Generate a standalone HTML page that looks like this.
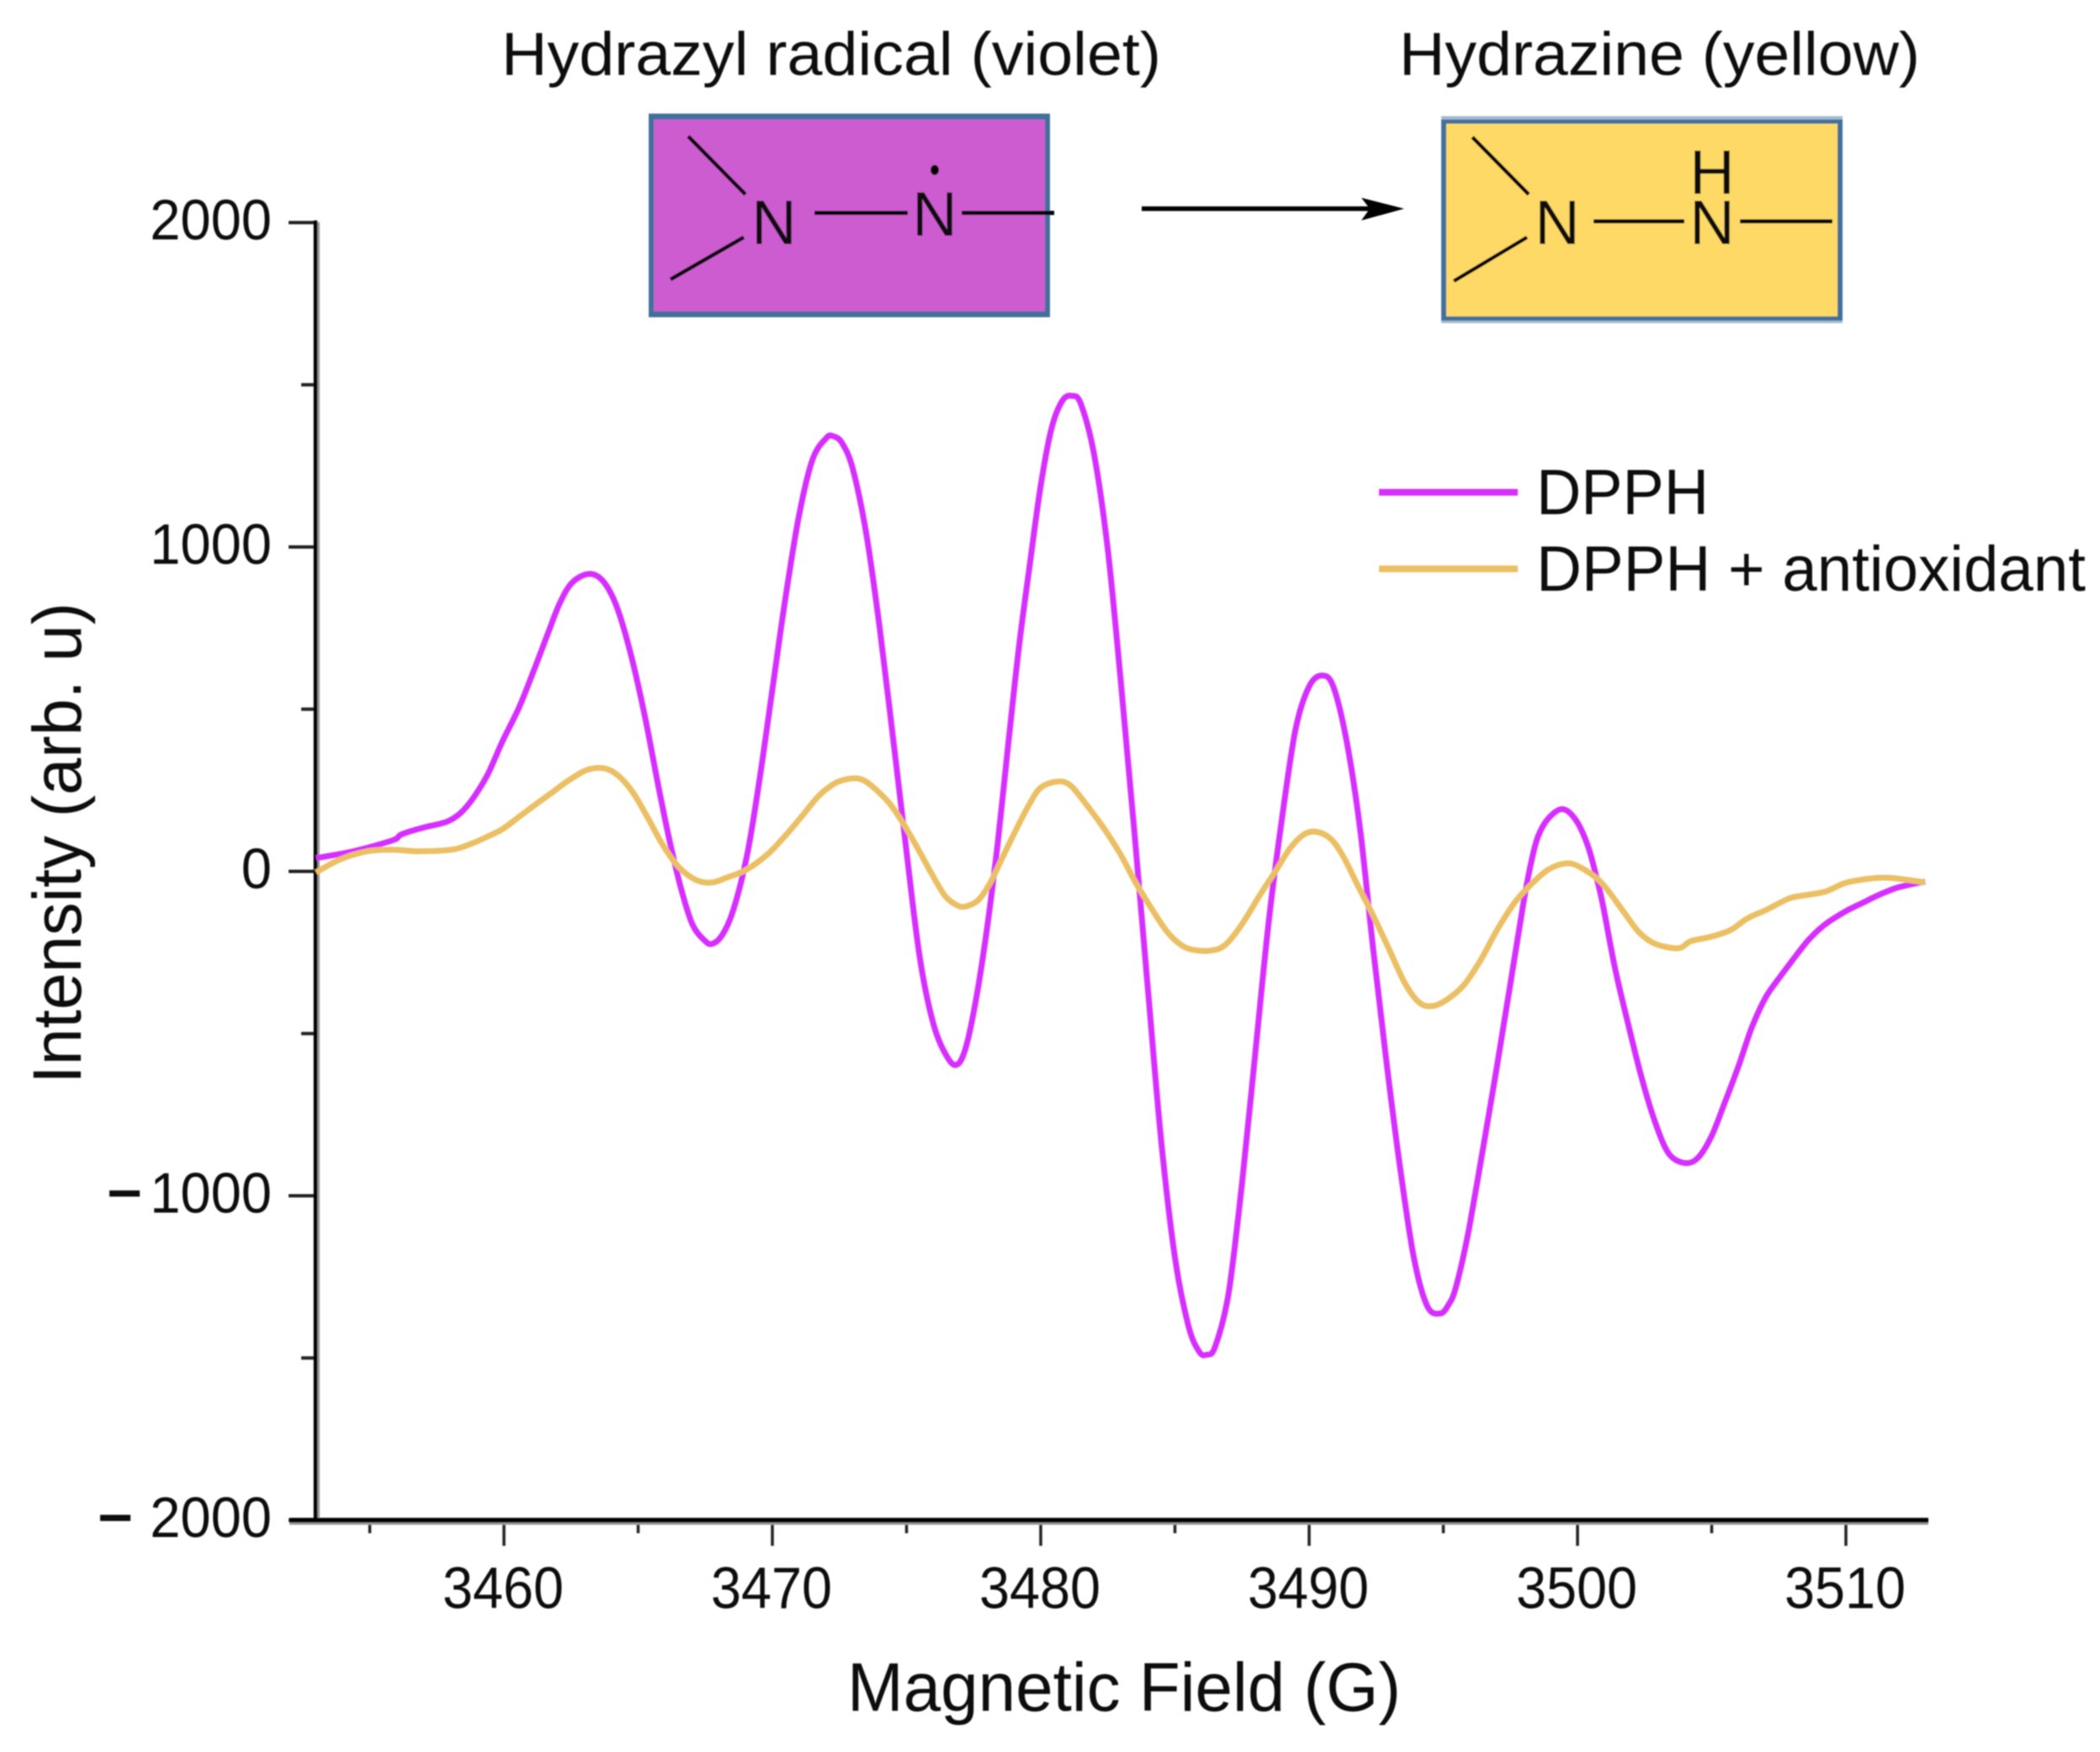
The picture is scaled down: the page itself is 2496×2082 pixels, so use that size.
<!DOCTYPE html>
<html lang="en">
<head>
<meta charset="utf-8">
<title>DPPH EPR spectrum</title>
<style>
html,body{margin:0;padding:0;background:#fff;width:2496px;height:2082px;overflow:hidden}
svg{display:block}
text{font-family:"Liberation Sans",sans-serif;fill:#111}
</style>
</head>
<body>
<svg id="chart" xmlns="http://www.w3.org/2000/svg" width="2496" height="2082" viewBox="0 0 2496 2082">
<defs><filter id="soft" x="0" y="0" width="100%" height="100%"><feGaussianBlur stdDeviation="0.8"/></filter></defs>
<rect width="2496" height="2082" fill="#fff"/>
<g id="root" filter="url(#soft)">

<text x="596" y="89" font-size="72" textLength="784" lengthAdjust="spacingAndGlyphs">Hydrazyl radical (violet)</text>
<text x="1663" y="89" font-size="72" textLength="619" lengthAdjust="spacingAndGlyphs">Hydrazine (yellow)</text>

<g>
<rect x="771" y="135" width="477" height="242" fill="#41719c"/>
<rect x="777" y="142" width="465" height="228" fill="#cd5bd0"/>
<g stroke="#000" fill="none">
<line x1="818" y1="162" x2="886" y2="231" stroke-width="4.5"/>
<line x1="884" y1="282" x2="797" y2="332" stroke-width="4.5"/>
<line x1="968" y1="253" x2="1079" y2="253" stroke-width="5"/>
<line x1="1143" y1="253" x2="1253" y2="253" stroke-width="5"/>
</g>
<text x="920" y="290" font-size="74" text-anchor="middle">N</text>
<text x="1111" y="280" font-size="74" text-anchor="middle">N</text>
<ellipse cx="1111" cy="202" rx="5" ry="6" fill="#000"/>
</g>

<g>
<line x1="1357" y1="248" x2="1640" y2="248" stroke="#000" stroke-width="5.5"/>
<polygon points="1618,235 1669,248 1618,262 1628,248" fill="#000"/>
</g>

<g>
<rect x="1713" y="138" width="477" height="246" fill="#a3b9d2"/>
<rect x="1713" y="142" width="477" height="239" fill="#41719c"/>
<rect x="1719" y="147" width="465" height="229" fill="#ffd966"/>
<g stroke="#000" fill="none">
<line x1="1750" y1="163" x2="1817" y2="231" stroke-width="4.5"/>
<line x1="1815" y1="282" x2="1728" y2="334" stroke-width="4.5"/>
<line x1="1894" y1="263" x2="2002" y2="263" stroke-width="5"/>
<line x1="2068" y1="263" x2="2178" y2="263" stroke-width="5"/>
</g>
<text x="1851" y="290" font-size="74" text-anchor="middle">N</text>
<text x="2035" y="290" font-size="74" text-anchor="middle">N</text>
<text x="2035" y="230" font-size="74" text-anchor="middle">H</text>
</g>

<g id="axes"></g>
<g id="series"></g>

<text x="1007" y="2033" font-size="82" textLength="658" lengthAdjust="spacingAndGlyphs">Magnetic Field (G)</text>
<text transform="translate(96,1288) rotate(-90)" font-size="82" textLength="572" lengthAdjust="spacingAndGlyphs">Intensity (arb. u)</text>

<g>
<line x1="1639" y1="585" x2="1804" y2="585" stroke="#d52eff" stroke-width="8"/>
<text x="1826" y="611" font-size="76" textLength="205" lengthAdjust="spacingAndGlyphs">DPPH</text>
<line x1="1639" y1="676" x2="1804" y2="676" stroke="#ebbf63" stroke-width="8"/>
<text x="1826" y="702" font-size="76" textLength="653" lengthAdjust="spacingAndGlyphs">DPPH + antioxidant</text>
</g>
</g>
</svg>
<script>
const xMajorTicks = [3460, 3470, 3480, 3490, 3500, 3510];
const xMinorTicks = [3455, 3465, 3475, 3485, 3495, 3505];
const yMajorTicks = [2000, 1000, 0, -1000, -2000];
const yMinorTicks = [1500, 500, -500, -1500];
const fieldDpph = [3453,3454.39,3455.86,3456.18,3456.99,3457.84,3458.37,3458.87,3459.4,3459.94,3460.56,3461.07,3461.6,3462.07,3462.54,3463.17,3463.7,3464.2,3464.73,3465.27,3465.77,3466.21,3466.61,3467.02,3467.46,3467.77,3468.18,3468.59,3469.07,3469.5,3470,3470.5,3471,3471.5,3472,3472.25,3472.6,3473,3473.5,3474,3474.5,3475,3475.5,3476,3476.5,3476.87,3477.2,3477.6,3478,3478.4,3478.8,3479.2,3479.6,3480,3480.4,3480.8,3481.16,3481.5,3482,3482.5,3483,3483.5,3484,3484.5,3485,3485.5,3485.9,3486.18,3486.5,3487,3487.5,3488,3488.5,3489,3489.5,3490,3490.47,3490.9,3491.4,3491.9,3492.4,3492.9,3493.4,3493.9,3494.4,3494.89,3495.2,3495.45,3495.86,3496.18,3496.5,3497,3497.5,3498,3498.28,3498.53,3498.91,3499.44,3499.94,3500.38,3500.7,3500.95,3501.4,3501.9,3502.4,3502.9,3503.4,3504.01,3504.5,3505,3505.5,3506,3506.5,3507,3507.5,3508,3508.6,3509.2,3509.97,3510.6,3511.22,3511.85,3512.48,3512.95];
const intensityDpph = [41,62,96,114,135,152,179,228,300,400,505,610,725,825,890,917,894,816,668,470,255,80,-57,-163,-212,-223,-190,-107,55,270,560,850,1100,1270,1335,1342,1320,1240,1040,750,410,60,-270,-470,-570,-596,-545,-390,-175,90,400,700,950,1190,1365,1450,1466,1440,1280,990,570,110,-370,-840,-1190,-1400,-1480,-1490,-1465,-1300,-960,-555,-150,170,440,570,604,570,400,130,-250,-600,-920,-1190,-1340,-1363,-1335,-1287,-1143,-998,-845,-600,-345,-90,30,108,163,192,158,80,-16,-105,-300,-475,-640,-775,-870,-899,-882,-815,-710,-600,-480,-390,-330,-275,-212,-165,-124,-98,-73,-52,-39,-31];
const fieldAntioxidant = [3453,3453.87,3454.92,3455.86,3456.8,3458.06,3458.78,3459.4,3459.94,3460.56,3461.19,3461.82,3462.4,3463.01,3463.48,3463.89,3464.33,3464.83,3465.36,3465.89,3466.39,3466.83,3467.3,3467.77,3468.28,3469.03,3469.84,3470.47,3471.1,3471.72,3472.26,3472.66,3473.1,3473.42,3473.82,3474.36,3474.86,3475.39,3475.92,3476.43,3476.87,3477.21,3477.68,3478.12,3478.53,3479.06,3479.56,3480,3480.63,3481.1,3481.66,3482.29,3482.92,3483.54,3484.17,3484.7,3485.2,3485.64,3486.36,3486.9,3487.52,3488.15,3488.78,3489.28,3489.81,3490.28,3490.81,3491.28,3491.79,3492.32,3492.95,3493.57,3494.11,3494.61,3495.14,3495.77,3496.4,3497.02,3497.65,3498.2,3498.9,3499.62,3500.16,3500.78,3501.19,3501.72,3502.26,3502.76,3503.29,3503.82,3504.23,3504.95,3505.7,3506.33,3507.05,3507.9,3508.53,3509.25,3509.97,3510.82,3511.66,3512.95];
const intensityAntioxidant = [-3,36,62,67,62,67,85,108,130,168,207,245,280,310,319,314,290,240,165,85,25,-10,-31,-34,-20,5,54,109,170,232,268,282,287,280,255,210,150,75,-5,-75,-104,-108,-88,-35,35,125,205,258,277,265,210,140,60,-35,-120,-185,-225,-241,-244,-225,-160,-75,5,70,114,122,100,45,-40,-125,-235,-345,-405,-415,-395,-350,-272,-178,-97,-46,5,25,10,-26,-65,-125,-185,-218,-233,-236,-215,-202,-181,-145,-118,-83,-73,-62,-36,-23,-20,-34];

const NS = 'http://www.w3.org/2000/svg';
const axes = document.getElementById('axes');
const seriesGroup = document.getElementById('series');
function xScale(g){ return 599 + (g - 3460) * 31.9; }
function yScale(v){ return 1035.5 - v * 0.3855; }
function makeLine(x1, y1, x2, y2, color, width){
  const l = document.createElementNS(NS, 'line');
  l.setAttribute('x1', x1); l.setAttribute('y1', y1);
  l.setAttribute('x2', x2); l.setAttribute('y2', y2);
  l.setAttribute('stroke', color); l.setAttribute('stroke-width', width);
  return l;
}
function makeText(str, x, y, size, length){
  const t = document.createElementNS(NS, 'text');
  t.setAttribute('x', x); t.setAttribute('y', y);
  t.setAttribute('font-size', size);
  if (length) { t.setAttribute('textLength', length); t.setAttribute('lengthAdjust', 'spacingAndGlyphs'); }
  t.textContent = str;
  return t;
}
function smoothPath(xs, ys){
  const p = xs.map((g, i) => [xScale(g), yScale(ys[i])]);
  let d = 'M' + p[0][0].toFixed(1) + ' ' + p[0][1].toFixed(1);
  for (let i = 0; i < p.length - 1; i++) {
    const a = p[Math.max(i - 1, 0)], b = p[i], c = p[i + 1], e = p[Math.min(i + 2, p.length - 1)];
    const c1x = b[0] + (c[0] - a[0]) / 6, c1y = b[1] + (c[1] - a[1]) / 6;
    const c2x = c[0] - (e[0] - b[0]) / 6, c2y = c[1] - (e[1] - b[1]) / 6;
    d += 'C' + c1x.toFixed(1) + ' ' + c1y.toFixed(1) + ' ' + c2x.toFixed(1) + ' ' + c2y.toFixed(1) + ' ' + c[0].toFixed(1) + ' ' + c[1].toFixed(1);
  }
  return d;
}

xMajorTicks.forEach(function(g){
  const tick = makeLine(xScale(g), 1808, xScale(g), 1837, '#222', 3.5);
  
  
  axes.appendChild(tick);
  const label = makeText(String(g), xScale(g) - 73, 1911, 70, 144);
  
  
  axes.appendChild(label);
});
xMinorTicks.forEach(function(g){
  const tick = makeLine(xScale(g), 1808, xScale(g), 1822, '#222', 3.5);
  
  
  axes.appendChild(tick);
});
yMajorTicks.forEach(function(v){
  const tick = makeLine(343, yScale(v), 374, yScale(v), '#222', 4);
  
  
  axes.appendChild(tick);
  const digits = String(Math.abs(v));
  const w = digits.length * 36.2;
  const label = makeText(digits, 323 - w, yScale(v) + 20, 68, w);
  
  
  axes.appendChild(label);
  if (v < 0) {
    const minus = makeText('\u2212', v === -1000 ? 127 : 116, yScale(v) + 20, 68, 42);
    minus.setAttribute('font-weight', '700');
    
    
    axes.appendChild(minus);
  }
});
yMinorTicks.forEach(function(v){
  const tick = makeLine(358, yScale(v), 374, yScale(v), '#222', 4);
  
  
  axes.appendChild(tick);
});
const yAxisShade = makeLine(378.5, 264, 378.5, 1812, '#999', 3);


axes.appendChild(yAxisShade);
const yAxis = makeLine(375, 262, 375, 1810, '#000', 4.5);


axes.appendChild(yAxis);
const xAxisShade = makeLine(344, 1810.5, 2292, 1810.5, '#999', 3);


axes.appendChild(xAxisShade);
const xAxis = makeLine(344, 1806.5, 2292, 1806.5, '#000', 5.5);


axes.appendChild(xAxis);

const lineDpph = document.createElementNS(NS, 'path');
lineDpph.setAttribute('d', smoothPath(fieldDpph, intensityDpph));
lineDpph.setAttribute('fill', 'none');
lineDpph.setAttribute('stroke', '#d52eff');
lineDpph.setAttribute('stroke-width', '7');
lineDpph.setAttribute('stroke-linejoin', 'round');


seriesGroup.appendChild(lineDpph);

const lineAntioxidant = document.createElementNS(NS, 'path');
lineAntioxidant.setAttribute('d', smoothPath(fieldAntioxidant, intensityAntioxidant));
lineAntioxidant.setAttribute('fill', 'none');
lineAntioxidant.setAttribute('stroke', '#ebbf63');
lineAntioxidant.setAttribute('stroke-width', '7');
lineAntioxidant.setAttribute('stroke-linejoin', 'round');


seriesGroup.appendChild(lineAntioxidant);
</script>
</body>
</html>
